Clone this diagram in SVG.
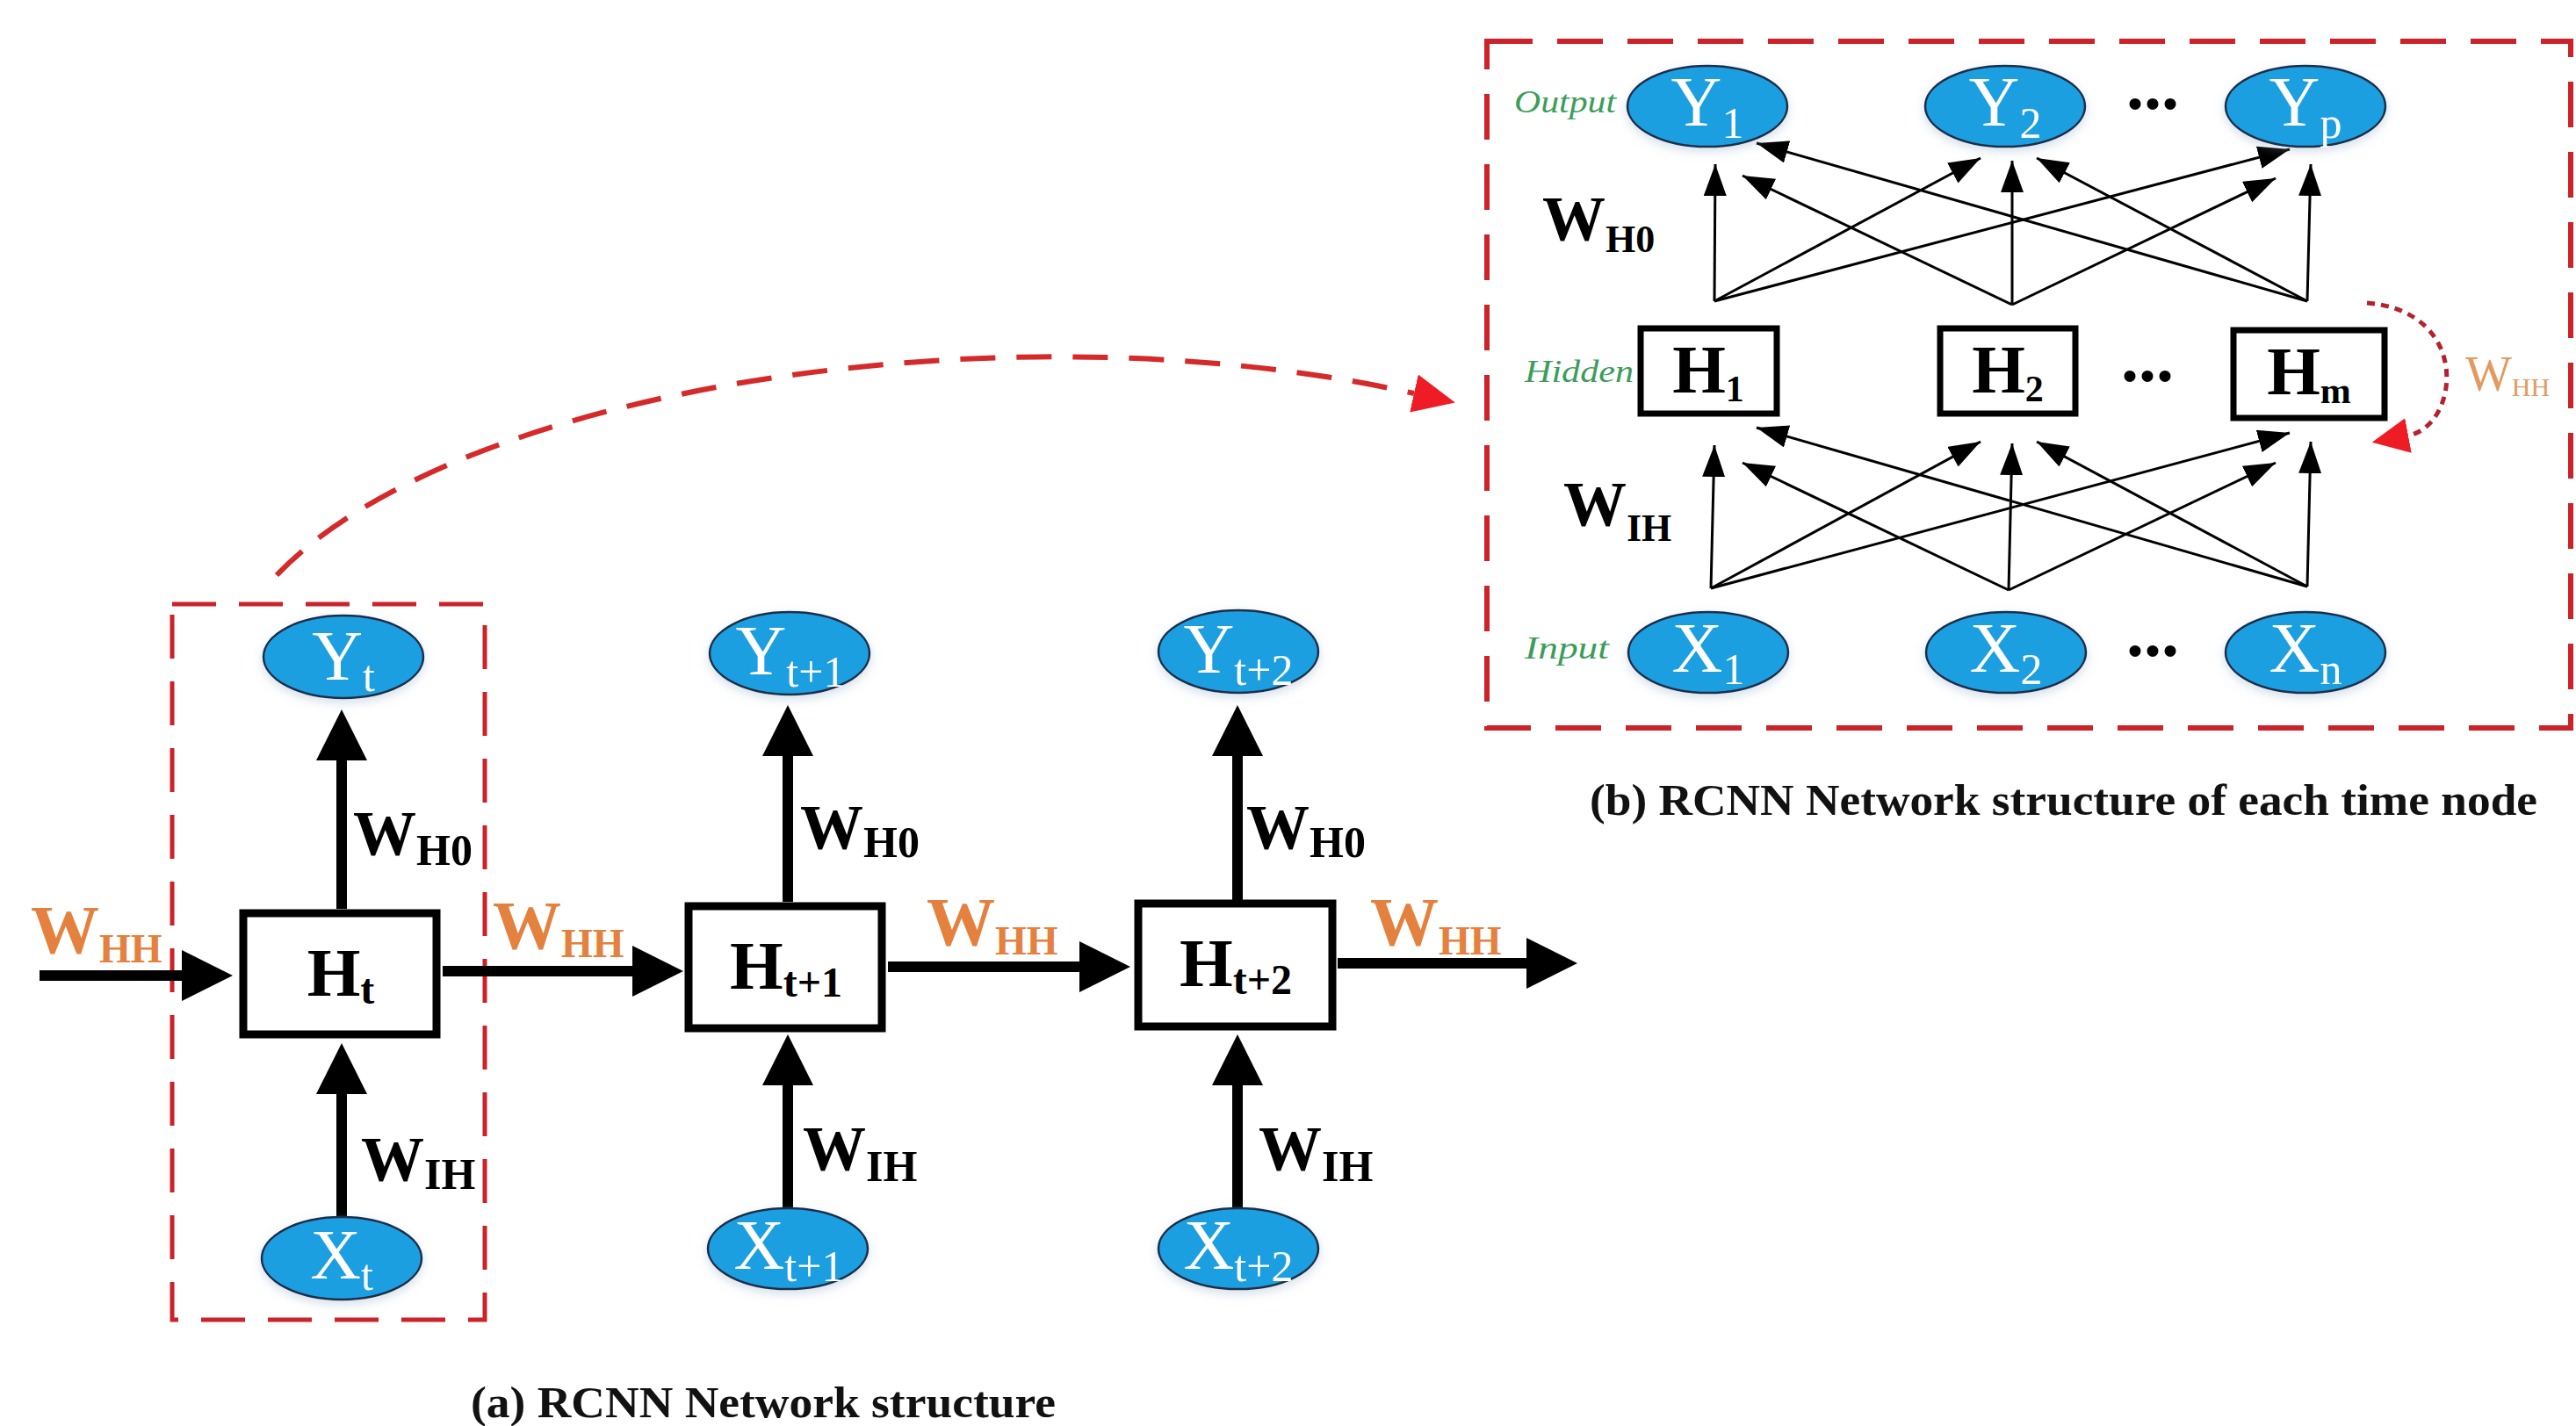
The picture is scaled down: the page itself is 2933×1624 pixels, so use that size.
<svg xmlns="http://www.w3.org/2000/svg" width="2933" height="1624" viewBox="0 0 2933 1624">
<defs>
<style>
.ell{fill:#1b9fe0;stroke:#1d2f4a;stroke-width:2.5;filter:url(#sh)}
.box{fill:#fff;stroke:#000;stroke-width:9}
.box2{fill:#fff;stroke:#000;stroke-width:7}
.nt{font-family:"Liberation Serif","Times New Roman",serif;fill:#fff;font-size:80px}
.ht{font-family:"Liberation Serif","Times New Roman",serif;font-weight:bold;fill:#000;font-size:78px}
.wl{font-family:"Liberation Serif","Times New Roman",serif;font-weight:bold;fill:#000;font-size:72px}
.wo{font-family:"Liberation Serif","Times New Roman",serif;font-weight:bold;fill:#e5813e;font-size:78px}
.gr{font-family:"Liberation Serif","Times New Roman",serif;font-style:italic;fill:#3b9d5a;font-size:36px}
.cap{font-family:"Liberation Serif","Times New Roman",serif;font-weight:bold;fill:#111;font-size:50px}
.dots{font-family:"Liberation Serif","Times New Roman",serif;font-weight:bold;fill:#000;font-size:80px}
.thick{fill:none;stroke:#000;stroke-width:12;marker-end:url(#ah)}
.fan{fill:none;stroke:#000;stroke-width:3;marker-end:url(#sm)}
.dbox{fill:none;stroke:#cc2229;stroke-width:5;stroke-dasharray:50 26}
</style>
<filter id="sh" x="-20%" y="-20%" width="140%" height="150%">
<feDropShadow dx="0" dy="4" stdDeviation="6" flood-color="#7f9fbf" flood-opacity="0.35"/>
</filter>
<marker id="ah" markerUnits="userSpaceOnUse" markerWidth="60" markerHeight="60" refX="0" refY="29" orient="auto">
<path d="M0,0 L58,29 L0,58 z" fill="#000"/>
</marker>
<marker id="sm" markerUnits="userSpaceOnUse" markerWidth="38" markerHeight="28" refX="36" refY="13" orient="auto">
<path d="M0,0 L36,13 L0,26 z" fill="#000"/>
</marker>
<marker id="rh" markerUnits="userSpaceOnUse" markerWidth="50" markerHeight="46" refX="0" refY="22" orient="auto">
<path d="M0,0 L48,22 L0,44 z" fill="#ee1c25"/>
</marker>
<marker id="rh2" markerUnits="userSpaceOnUse" markerWidth="44" markerHeight="42" refX="0" refY="20" orient="auto">
<path d="M0,0 L42,20 L0,40 z" fill="#ee1c25"/>
</marker>
</defs>
<rect width="2933" height="1624" fill="#fff"/>

<!-- dashed frames -->
<rect class="dbox" x="196" y="688" width="356" height="815"/>
<rect class="dbox" x="1693" y="47" width="1234" height="782" style="stroke-dasharray:52 28;stroke-width:6"/>

<!-- connectors -->
<g id="connectors">
<path class="thick" d="M45,1111 H207"/>
<path class="thick" d="M504,1106 H720"/>
<path class="thick" d="M1011,1101 H1229"/>
<path class="thick" d="M1523,1097 H1738"/>
<path class="thick" d="M389,1035 V866"/>
<path class="thick" d="M897,1027 V861"/>
<path class="thick" d="M1409,1025 V861"/>
<path class="thick" d="M389,1385 V1246"/>
<path class="thick" d="M897,1376 V1236"/>
<path class="thick" d="M1409,1376 V1236"/>
<path d="M315,655 C520,440 1150,345 1610,448" fill="none" stroke="#d42a2a" stroke-width="6" stroke-dasharray="40 24" marker-end="url(#rh)"/>
<path d="M2695,345 C2815,355 2800,485 2742,496" fill="none" stroke="#b3232e" stroke-width="5" stroke-dasharray="9 7" marker-end="url(#rh2)"/>
<g id="fan-top">
<path class="fan" d="M1952,343 L1953,187"/>
<path class="fan" d="M1952,343 L2255,180"/>
<path class="fan" d="M1952,343 L2607,170"/>
<path class="fan" d="M2291,347 L1984,200"/>
<path class="fan" d="M2291,347 L2291,183"/>
<path class="fan" d="M2291,347 L2591,203"/>
<path class="fan" d="M2627,343 L2000,163"/>
<path class="fan" d="M2627,343 L2319,180"/>
<path class="fan" d="M2627,343 L2631,187"/>
</g>
<g id="fan-bottom">
<path class="fan" d="M1948,670 L1952,507"/>
<path class="fan" d="M1948,670 L2255,503"/>
<path class="fan" d="M1948,670 L2607,493"/>
<path class="fan" d="M2287,672 L1984,527"/>
<path class="fan" d="M2287,672 L2291,505"/>
<path class="fan" d="M2287,672 L2591,527"/>
<path class="fan" d="M2627,668 L2000,487"/>
<path class="fan" d="M2627,668 L2319,503"/>
<path class="fan" d="M2627,668 L2631,503"/>
</g>
</g>

<!-- left diagram nodes -->
<g id="Yt"><ellipse class="ell" cx="391" cy="748" rx="91" ry="47"/><text class="nt" x="391" y="774" text-anchor="middle">Y<tspan font-size="50" dy="13">t</tspan></text></g>
<g id="Yt1"><ellipse class="ell" cx="899" cy="744" rx="91" ry="47"/><text class="nt" x="900" y="768" text-anchor="middle">Y<tspan font-size="50" dy="14">t+1</tspan></text></g>
<g id="Yt2"><ellipse class="ell" cx="1410" cy="742" rx="91" ry="47"/><text class="nt" x="1410" y="766" text-anchor="middle">Y<tspan font-size="50" dy="14">t+2</tspan></text></g>

<g id="Ht"><rect class="box" x="277" y="1040" width="220" height="138"/><text class="ht" x="388" y="1134" text-anchor="middle">H<tspan font-size="48" dy="9">t</tspan></text></g>
<g id="Ht1"><rect class="box" x="784" y="1032" width="220" height="139"/><text class="ht" x="895" y="1126" text-anchor="middle">H<tspan font-size="48" dy="9">t+1</tspan></text></g>
<g id="Ht2"><rect class="box" x="1296" y="1029" width="221" height="140"/><text class="ht" x="1407" y="1123" text-anchor="middle">H<tspan font-size="48" dy="9">t+2</tspan></text></g>

<g id="Xt"><ellipse class="ell" cx="389" cy="1433" rx="91" ry="47"/><text class="nt" x="389" y="1456" text-anchor="middle">X<tspan font-size="50" dy="13">t</tspan></text></g>
<g id="Xt1"><ellipse class="ell" cx="897" cy="1422" rx="91" ry="46"/><text class="nt" x="898" y="1445" text-anchor="middle">X<tspan font-size="50" dy="14">t+1</tspan></text></g>
<g id="Xt2"><ellipse class="ell" cx="1410" cy="1422" rx="91" ry="46"/><text class="nt" x="1410" y="1445" text-anchor="middle">X<tspan font-size="50" dy="14">t+2</tspan></text></g>

<!-- left weight labels -->
<g id="labels-left">
<text class="wo" x="35" y="1085">W<tspan font-size="46" dy="11">HH</tspan></text>
<text class="wo" x="561" y="1080">W<tspan font-size="46" dy="10">HH</tspan></text>
<text class="wo" x="1055" y="1076">W<tspan font-size="46" dy="11">HH</tspan></text>
<text class="wo" x="1560" y="1076">W<tspan font-size="46" dy="11">HH</tspan></text>
<text class="wl" x="402" y="973">W<tspan font-size="50" dy="12">H0</tspan></text>
<text class="wl" x="911" y="966">W<tspan font-size="50" dy="10">H0</tspan></text>
<text class="wl" x="1419" y="966">W<tspan font-size="50" dy="10">H0</tspan></text>
<text class="wl" x="411" y="1344">W<tspan font-size="50" dy="10">IH</tspan></text>
<text class="wl" x="914" y="1332">W<tspan font-size="50" dy="13">IH</tspan></text>
<text class="wl" x="1433" y="1332">W<tspan font-size="50" dy="13">IH</tspan></text>
</g>

<!-- right diagram nodes -->
<g id="Y1"><ellipse class="ell" cx="1944" cy="121" rx="91" ry="46"/><text class="nt" x="1944" y="143" text-anchor="middle">Y<tspan font-size="50" dy="14">1</tspan></text></g>
<g id="Y2"><ellipse class="ell" cx="2283" cy="121" rx="91" ry="46"/><text class="nt" x="2283" y="143" text-anchor="middle">Y<tspan font-size="50" dy="14">2</tspan></text></g>
<g id="Yp"><ellipse class="ell" cx="2625" cy="121" rx="91" ry="46"/><text class="nt" x="2625" y="143" text-anchor="middle">Y<tspan font-size="50" dy="14">p</tspan></text></g>
<g id="H1"><rect class="box2" x="1868" y="374" width="155" height="97"/><text class="ht" x="1945" y="447" text-anchor="middle" font-size="75">H<tspan font-size="42" dy="10">1</tspan></text></g>
<g id="H2"><rect class="box2" x="2209" y="374" width="154" height="97"/><text class="ht" x="2286" y="447" text-anchor="middle" font-size="75">H<tspan font-size="42" dy="10">2</tspan></text></g>
<g id="Hm"><rect class="box2" x="2543" y="376" width="172" height="100"/><text class="ht" x="2629" y="449" text-anchor="middle" font-size="75">H<tspan font-size="42" dy="10">m</tspan></text></g>
<g id="X1"><ellipse class="ell" cx="1945" cy="743" rx="91" ry="46"/><text class="nt" x="1945" y="765" text-anchor="middle">X<tspan font-size="50" dy="14">1</tspan></text></g>
<g id="X2"><ellipse class="ell" cx="2284" cy="743" rx="91" ry="46"/><text class="nt" x="2284" y="765" text-anchor="middle">X<tspan font-size="50" dy="14">2</tspan></text></g>
<g id="Xn"><ellipse class="ell" cx="2625" cy="743" rx="91" ry="46"/><text class="nt" x="2625" y="765" text-anchor="middle">X<tspan font-size="50" dy="14">n</tspan></text></g>

<g id="labels-right">
<text class="dots" x="2421" y="124">...</text>
<text class="dots" x="2415" y="434">...</text>
<text class="dots" x="2421" y="747">...</text>
<text class="gr" x="1724" y="128" textLength="116" lengthAdjust="spacingAndGlyphs">Output</text>
<text class="gr" x="1736" y="435" textLength="124" lengthAdjust="spacingAndGlyphs">Hidden</text>
<text class="gr" x="1736" y="750" textLength="96" lengthAdjust="spacingAndGlyphs">Input</text>
<text class="wl" x="1756" y="273">W<tspan font-size="44" dy="14">H0</tspan></text>
<text class="wl" x="1780" y="598" font-size="68">W<tspan font-size="44" dy="18">IH</tspan></text>
<text x="2807" y="445" font-family="Liberation Serif, Times New Roman, serif" font-size="56" fill="#e39a5f">W<tspan font-size="30" dy="6">HH</tspan></text>
</g>

<!-- captions -->
<text class="cap" x="536" y="1614" textLength="666" lengthAdjust="spacingAndGlyphs">(a) RCNN Network structure</text>
<text class="cap" x="1810" y="928" textLength="1079" lengthAdjust="spacingAndGlyphs">(b) RCNN Network structure of each time node</text>
</svg>
